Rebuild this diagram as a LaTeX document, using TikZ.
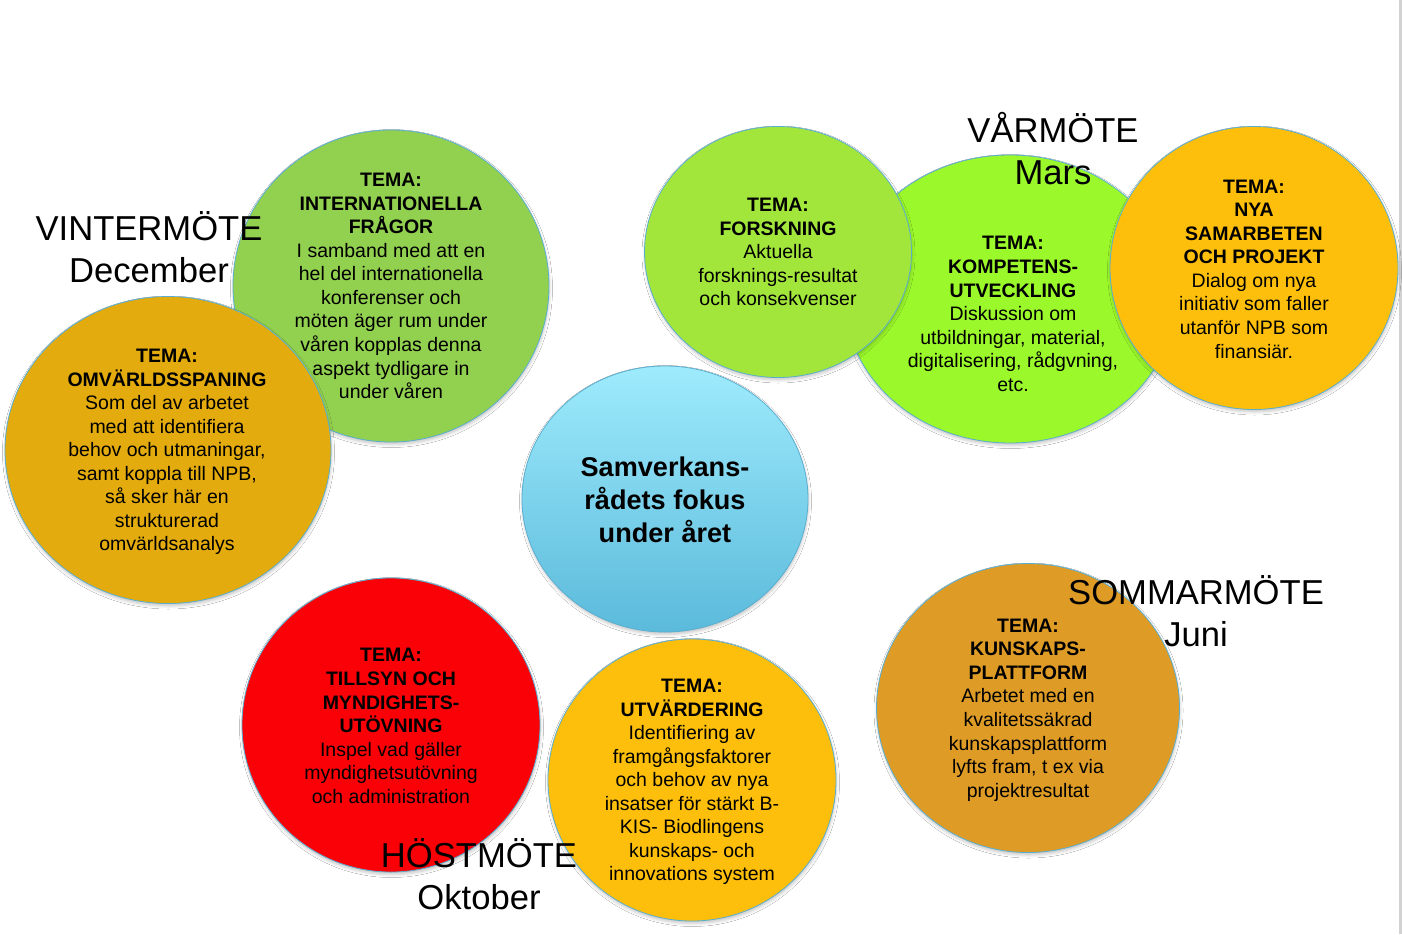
\documentclass[tikz,border=0pt]{standalone}
\usepackage{fontspec}
\setmainfont{Liberation Sans}
\usetikzlibrary{shapes.geometric,shadows.blur}
\definecolor{cIntl}{HTML}{92D050}
\definecolor{cOmv}{HTML}{E3AB0D}
\definecolor{cForsk}{HTML}{A2E63C}
\definecolor{cKomp}{HTML}{9BF82B}
\definecolor{cSam}{HTML}{FDBF0B}
\definecolor{cTop}{HTML}{9EEBFC}
\definecolor{cBot}{HTML}{5BBADB}
\definecolor{cRed}{HTML}{FA0007}
\definecolor{cUtv}{HTML}{FDBF0B}
\definecolor{cKun}{HTML}{DE9C27}
\definecolor{cEdge}{HTML}{5AAED0}
\definecolor{cBar}{HTML}{D2D2D2}
\begin{document}
\begin{tikzpicture}[x=1pt,y=-1pt,
  bubble/.style={ellipse, draw=cEdge, line width=0.8pt, inner sep=0pt,
    blur shadow={shadow xshift=0.5pt,shadow yshift=-2.5pt,shadow opacity=22,shadow blur radius=3pt}},
  btext/.style={align=center, font=\fontsize{19.5}{23.55}\selectfont, inner sep=0pt},
  ctext/.style={align=center, font=\fontsize{27.1}{33}\selectfont\bfseries, inner sep=0pt},
  season/.style={align=center, font=\fontsize{34.6}{42}\selectfont, inner sep=0pt}]
\useasboundingbox (0,0) rectangle (1402,934);
\fill[white] (0,0) rectangle (1402,934);
\fill[cBar] (1399,0) rectangle (1402,934);

% Winter
\node[bubble, fill=cIntl, minimum width=316, minimum height=312] (c1) at (391,286) {};
\node[btext] (t1) at (391,286) {\textbf{TEMA:}\\\textbf{INTERNATIONELLA}\\\textbf{FRÅGOR}\\I samband med att en\\hel del internationella\\konferenser och\\möten äger rum under\\våren kopplas denna\\aspekt tydligare in\\under våren};
\node[bubble, fill=cOmv, minimum width=326, minimum height=307] (c2) at (168,450) {};
\node[btext] (t2) at (167,452) {\textbf{TEMA:}\\\textbf{OMVÄRLDSSPANING}\\Som del av arbetet\\med att identifiera\\behov och utmaningar,\\samt koppla till NPB,\\så sker här en\\strukturerad\\omvärldsanalys};
\node[season] (l1) at (149,247.5) {VINTERMÖTE\\December};

% Spring
\node[bubble, fill=cKomp, minimum width=330, minimum height=288] (c4) at (1010,299) {};
\node[bubble, fill=cForsk, minimum width=267, minimum height=251] (c3) at (778,252) {};
\node[bubble, fill=cSam, minimum width=288, minimum height=283] (c5) at (1254,268) {};
\node[btext] (t3) at (778,252) {\textbf{TEMA:}\\\textbf{FORSKNING}\\Aktuella\\forsknings-resultat\\och konsekvenser};
\node[btext] (t4) at (1013,314) {\textbf{TEMA:}\\\textbf{KOMPETENS-}\\\textbf{UTVECKLING}\\Diskussion om\\utbildningar, material,\\digitalisering, rådgvning,\\etc.};
\node[btext] (t5) at (1254,269) {\textbf{TEMA:}\\\textbf{NYA}\\\textbf{SAMARBETEN}\\\textbf{OCH PROJEKT}\\Dialog om nya\\initiativ som faller\\utanför NPB som\\finansiär.};
\node[season] (l2) at (1053,148.5) {VÅRMÖTE\\Mars};

% Centre
\node[bubble, top color=cTop, bottom color=cBot, minimum width=286, minimum height=266] (c6) at (665,499) {};
\node[ctext] (t6) at (665,500) {Samverkans-\\rådets fokus\\under året};

% Autumn
\node[bubble, fill=cRed, minimum width=298, minimum height=294] (c7) at (391,725) {};
\node[btext] (t7) at (391,726) {\textbf{TEMA:}\\\textbf{TILLSYN OCH}\\\textbf{MYNDIGHETS-}\\\textbf{UTÖVNING}\\Inspel vad gäller\\myndighetsutövning\\och administration};
\node[bubble, fill=cUtv, minimum width=288, minimum height=282] (c8) at (692,780) {};
\node[btext] (t8) at (692,782) {\textbf{TEMA:}\\\textbf{UTVÄRDERING}\\Identifiering av\\framgångsfaktorer\\och behov av nya\\insatser för stärkt B-\\KIS- Biodlingens\\kunskaps- och\\innovations system};
\node[season] (l4) at (479,874) {HÖSTMÖTE\\Oktober};

% Summer
\node[bubble, fill=cKun, minimum width=303, minimum height=289] (c9) at (1028,708) {};
\node[btext] (t9) at (1028,710) {\textbf{TEMA:}\\\textbf{KUNSKAPS-}\\\textbf{PLATTFORM}\\Arbetet med en\\kvalitetssäkrad\\kunskapsplattform\\lyfts fram, t ex via\\projektresultat};
\node[season] (l3) at (1196,611) {SOMMARMÖTE\\Juni};
\end{tikzpicture}
\end{document}
